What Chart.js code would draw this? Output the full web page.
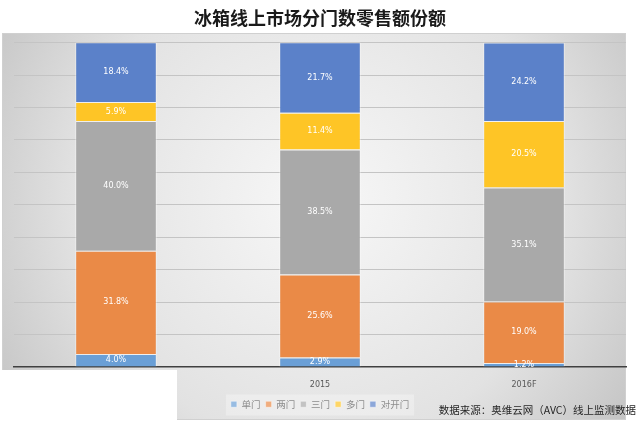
<!DOCTYPE html>
<html>
<head>
<meta charset="utf-8">
<script src="https://cdn.jsdelivr.net/npm/chart.js@4.4.0/dist/chart.umd.min.js"></script>
<style>
  body { margin: 0; background: #fff; }
  #wrap { width: 640px; height: 422px; }
</style>
</head>
<body>
<div id="wrap"><canvas id="myChart" width="640" height="422"></canvas></div>
<script>
// categories and series (percent share)
const years = ['2014', '2015', '2016F'];
const seriesNames = ['单门', '两门', '三门', '多门', '对开门'];
const danmen = [4.0, 2.9, 1.2];
const liangmen = [31.8, 25.6, 19.0];
const sanmen = [40.0, 38.5, 35.1];
const duomen = [5.9, 11.4, 20.5];
const duikaimen = [18.4, 21.7, 24.2];
const colors = ['#6A9FD6', '#EA8A47', '#A9A9A9', '#FEC526', '#5B81C9'];
const sourceNote = '数据来源：奥维云网（AVC）线上监测数据';

const allValues = [danmen, liangmen, sanmen, duomen, duikaimen];

// gray panel behind the plot + white patch at the lower left
const panelPlugin = {
    id: 'panel',
    beforeDraw(chart) {
        const ctx = chart.ctx;
        ctx.save();
        const g = ctx.createRadialGradient(320, 200, 40, 320, 200, 380);
        g.addColorStop(0, '#f4f4f4');
        g.addColorStop(0.6, '#e2e2e2');
        g.addColorStop(1, '#c4c4c4');
        ctx.fillStyle = g;
        ctx.fillRect(2, 33, 624, 387);
        ctx.strokeStyle = '#d0d0d0';
        ctx.lineWidth = 1;
        ctx.strokeRect(2.5, 33.5, 623, 386);
        ctx.restore();
    },
    beforeDatasetsDraw(chart) {
        // lighter box behind legend items
        const lg = chart.legend;
        if (!lg || !lg.legendHitBoxes || !lg.legendHitBoxes.length) return;
        const boxes = lg.legendHitBoxes;
        const l = Math.min(...boxes.map(b => b.left));
        const r = Math.max(...boxes.map(b => b.left + b.width));
        const t = Math.min(...boxes.map(b => b.top));
        const ctx = chart.ctx;
        ctx.save();
        ctx.fillStyle = 'rgba(255,255,255,0.3)';
        ctx.fillRect(l - 5, t - 5, r - l + 10, 21);
        ctx.restore();
    },
    afterDraw(chart) {
        const ctx = chart.ctx;
        ctx.save();
        // cover the first category label like the reference
        ctx.fillStyle = '#ffffff';
        ctx.fillRect(0, 370, 177, 52);
        ctx.fillStyle = '#262626';
        ctx.font = '10.5px "Noto Sans CJK SC"';
        ctx.textAlign = 'right';
        ctx.textBaseline = 'middle';
        ctx.fillText(sourceNote, 636, 410);
        ctx.restore();
    }
};

// percentage labels inside each segment
const labelPlugin = {
    id: 'segLabels',
    afterDatasetsDraw(chart) {
        const ctx = chart.ctx;
        ctx.save();
        ctx.fillStyle = '#ffffff';
        ctx.font = '8px "DejaVu Sans"';
        ctx.textAlign = 'center';
        ctx.textBaseline = 'middle';
        chart.data.datasets.forEach((ds, i) => {
            const meta = chart.getDatasetMeta(i);
            meta.data.forEach((bar, j) => {
                const y = (bar.y + bar.base) / 2;
                ctx.fillText(ds.data[j].toFixed(1) + '%', bar.x, y);
            });
        });
        ctx.restore();
    }
};

const ctx = document.getElementById('myChart').getContext('2d');
new Chart(ctx, {
    type: 'bar',
    data: {
        labels: years,
        datasets: seriesNames.map((name, i) => ({
            label: name,
            data: allValues[i],
            backgroundColor: colors[i],
            borderColor: 'rgba(255,255,255,0.45)',
            borderWidth: 1,
            categoryPercentage: 1,
            barPercentage: 0.4
        }))
    },
    options: {
        responsive: false,
        animation: false,
        layout: { padding: { left: 14, right: 14, top: 0, bottom: 3 } },
        scales: {
            x: {
                stacked: true,
                grid: { display: false },
                border: { color: '#404040', width: 1.5 },
                ticks: { color: '#595959', font: { size: 8, family: 'DejaVu Sans' }, padding: 5 }
            },
            y: {
                stacked: true,
                min: 0,
                max: 100,
                ticks: { display: false, stepSize: 10 },
                grid: { color: '#c4c4c4', drawTicks: false },
                border: { display: false }
            }
        },
        plugins: {
            title: {
                display: true,
                text: '冰箱线上市场分门数零售额份额',
                color: '#1a1a1a',
                font: { size: 18, weight: 'bold', family: '"Noto Sans CJK SC"' },
                padding: { top: 7, bottom: 14 }
            },
            legend: {
                position: 'bottom',
                labels: {
                    color: '#595959',
                    font: { size: 9.5, family: '"Noto Sans CJK SC"' },
                    boxWidth: 6,
                    boxHeight: 6,
                    padding: 5
                }
            },
            tooltip: { enabled: false }
        }
    },
    plugins: [panelPlugin, labelPlugin]
});
</script>
</body>
</html>
